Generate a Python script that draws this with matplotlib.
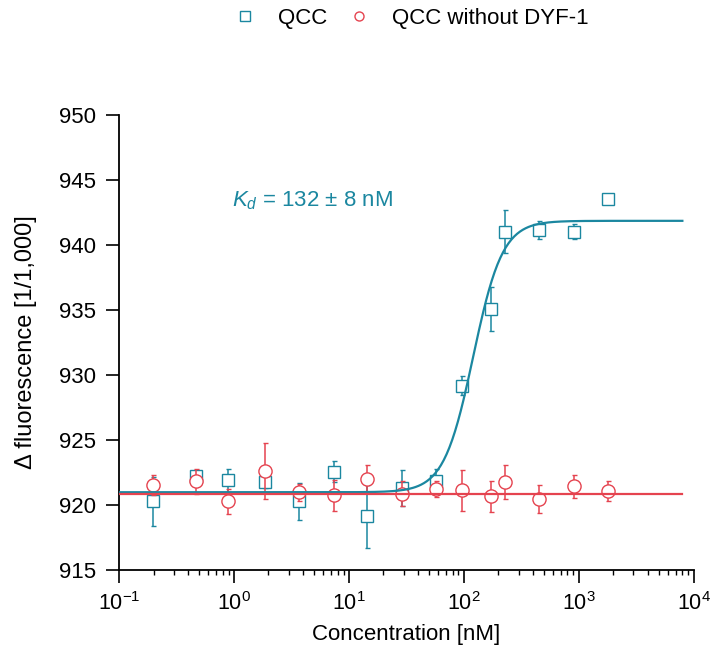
import numpy as np
import matplotlib; matplotlib.use("Agg")
import matplotlib.pyplot as plt
from matplotlib.lines import Line2D
from matplotlib.ticker import LogLocator, NullLocator

plt.rcParams["font.family"] = ["Liberation Sans", "DejaVu Sans"]
plt.rcParams["mathtext.fontset"] = "custom"
plt.rcParams["mathtext.rm"] = "Liberation Sans"
plt.rcParams["mathtext.it"] = "Liberation Sans:italic"
plt.rcParams["axes.unicode_minus"] = False

TEAL, RED = "#1b87a0", "#e5434f"

# 配体浓度 (nM) 与两组 MST 读数
conc = [0.198, 0.466, 0.882, 1.88, 3.72, 7.37, 14.5, 29.0, 57.4, 96.3, 173, 230, 455, 908, 1815]
qcc = [920.25, 922.2, 921.87, 921.75, 920.25, 922.52, 919.1, 921.28, 921.8, 929.15, 935.05, 941.02, 941.15, 941.02, 943.5]
qcc_err = [1.87, 0.5, 0.87, 0.5, 1.41, 0.82, 2.44, 1.36, 0.97, 0.74, 1.72, 1.64, 0.67, 0.6, 0.3]
ctrl = [921.54, 921.8, 920.25, 922.56, 920.95, 920.7, 921.98, 920.85, 921.2, 921.1, 920.64, 921.74, 920.44, 921.41, 921.08]
ctrl_err = [0.77, 0.97, 0.95, 2.15, 0.64, 1.2, 1.1, 0.95, 0.6, 1.59, 1.18, 1.31, 1.08, 0.9, 0.77]

# 拟合参数
fit_bottom, fit_top, ec50, hill = 920.95, 941.85, 121.0, 3.4
ctrl_level = 920.8
xfit = np.logspace(-1, np.log10(8000), 400)
yfit = fit_bottom + (fit_top - fit_bottom) * xfit**hill / (xfit**hill + ec50**hill)

fig = plt.figure(figsize=(7.11, 6.62), dpi=100)
ax = fig.add_axes([119/711, 1 - 569.5/662, (693.5 - 119)/711, (569.5 - 115)/662])

ax.errorbar(conc, qcc, yerr=qcc_err, fmt="s", ms=8, mfc="white", mec=TEAL, mew=1.0,
            ecolor=TEAL, elinewidth=1.1, capsize=1.8, capthick=1.1, zorder=2)
ax.errorbar(conc, ctrl, yerr=ctrl_err, fmt="o", ms=9.5, mfc="white", mec=RED, mew=1.0,
            ecolor=RED, elinewidth=1.1, capsize=1.8, capthick=1.1, zorder=3)
ax.plot(xfit, yfit, color=TEAL, lw=1.6, zorder=4)
ax.plot([0.1, 8000], [ctrl_level, ctrl_level], color=RED, lw=1.6, zorder=5)

ax.set_xscale("log")
ax.set_xlim(0.1, 1e4)
ax.set_ylim(915, 950)
ax.set_yticks(np.arange(915, 951, 5))
ax.yaxis.set_minor_locator(NullLocator())
ax.xaxis.set_major_locator(LogLocator(base=10, numticks=10))
ax.xaxis.set_minor_locator(LogLocator(base=10, subs=np.arange(2, 10), numticks=10))

for s in ("top", "right"):
    ax.spines[s].set_visible(False)
for s in ("left", "bottom"):
    ax.spines[s].set_linewidth(1.3)
ax.tick_params(which="major", direction="out", length=9.4, width=1.2, labelsize=16, pad=7)
ax.tick_params(which="minor", direction="out", length=3.6, width=1.0)
ax.tick_params(axis="x", which="major", labelsize=15.5)

ax.set_xlabel("Concentration [nM]", fontsize=16, labelpad=6)
ax.set_ylabel("Δ fluorescence [1/1,000]", fontsize=17, labelpad=16)

ax.text(0.96, 943.4, r"$K_d$ = 132 ± 8 nM", color=TEAL, fontsize=16, ha="left", va="center")

handles = [Line2D([], [], ls="none", marker="s", ms=6.5, mfc="white", mec=TEAL, mew=1.0),
           Line2D([], [], ls="none", marker="o", ms=6.5, mfc="white", mec=RED, mew=1.0)]
fig.legend(handles, ["QCC", "QCC without DYF-1"], loc="center", bbox_to_anchor=(0.577, 0.972),
           ncol=2, frameon=False, fontsize=16, handlelength=1.2, handletextpad=0.9, columnspacing=0.8)

fig.savefig("out.png", dpi=100)
